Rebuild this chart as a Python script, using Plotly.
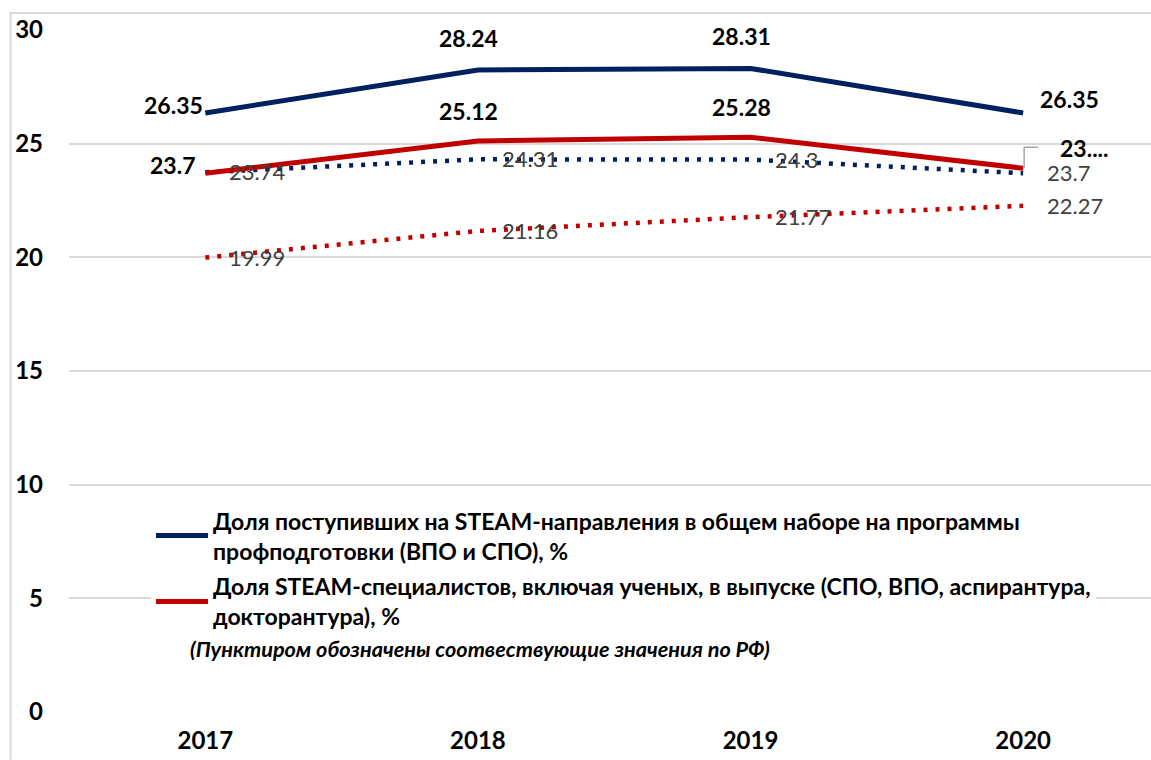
import plotly.graph_objects as go

years = ["2017", "2018", "2019", "2020"]
enrolled_region = [26.35, 28.24, 28.31, 26.35]
graduates_region = [23.7, 25.12, 25.28, 23.92]
enrolled_rf = [23.74, 24.31, 24.3, 23.7]
graduates_rf = [19.99, 21.16, 21.77, 22.27]
graduates_region_labels = ["23.7", "25.12", "25.28", "23...."]
series_names = [
    "Доля поступивших на STEAM-направления в общем наборе на программы<br>профподготовки (ВПО и СПО), %",
    "Доля STEAM-специалистов, включая ученых, в выпуске (СПО, ВПО, аспирантура,<br>докторантура), %",
]
note_text = "(Пунктиром обозначены соотвествующие значения по РФ)"
y_ticks = [0, 5, 10, 15, 20, 25, 30]

NAVY = "#002060"
RED = "#C00000"
GRID = "#D9D9D9"
FONT = "Lato"

fig = go.Figure()
fig.add_trace(go.Scatter(x=years, y=enrolled_rf, mode="lines", showlegend=False,
                         line=dict(color=NAVY, width=4.5, dash="4px,8px")))
fig.add_trace(go.Scatter(x=years, y=graduates_rf, mode="lines", showlegend=False,
                         line=dict(color=RED, width=4.5, dash="4px,8px")))
fig.add_trace(go.Scatter(x=years, y=enrolled_region, mode="lines", name=series_names[0],
                         legendgroup="a", line=dict(color=NAVY, width=5)))
fig.add_trace(go.Scatter(x=years, y=graduates_region, mode="lines", name=series_names[1],
                         legendgroup="b", line=dict(color=RED, width=5)))

bold_lbl = dict(family=FONT, size=23, color="black", weight="bold")
gray_lbl = dict(family=FONT, size=22, color="#404040")

# solid-line labels (x given as category index)
for i, v in enumerate(enrolled_region):
    if i == 0:
        fig.add_annotation(x=i, y=v, text=f"{v:g}", showarrow=False, xanchor="right",
                           xshift=0, yshift=8, font=bold_lbl)
    elif i == 3:
        fig.add_annotation(x=i, y=v, text=f"{v:g}", showarrow=False, xanchor="left",
                           xshift=15, yshift=14, font=bold_lbl)
    else:
        fig.add_annotation(x=i, y=v, text=f"{v:g}", showarrow=False, yanchor="bottom",
                           xshift=-9, yshift=16, font=bold_lbl)
for i, (v, t) in enumerate(zip(graduates_region, graduates_region_labels)):
    if i == 0:
        fig.add_annotation(x=i, y=v, text=t, showarrow=False, xanchor="right",
                           xshift=-8, yshift=8, font=bold_lbl)
    elif i == 3:
        fig.add_annotation(x=i, y=v, text=t, showarrow=False, xanchor="left",
                           xshift=35, yshift=20, font=bold_lbl)
    else:
        fig.add_annotation(x=i, y=v, text=t, showarrow=False, yanchor="bottom",
                           xshift=-9, yshift=14, font=bold_lbl)

# leader line for the truncated label
fig.add_shape(type="line", xref="x", yref="y", xsizemode="pixel", ysizemode="pixel",
              xanchor=3, yanchor=graduates_region[3], x0=1, x1=1, y0=0, y1=21,
              line=dict(color="#A6A6A6", width=1.5))
fig.add_shape(type="line", xref="x", yref="y", xsizemode="pixel", ysizemode="pixel",
              xanchor=3, yanchor=graduates_region[3], x0=1, x1=15, y0=21, y1=21,
              line=dict(color="#A6A6A6", width=1.5))

# dotted-line labels (to the right)
for series in (enrolled_rf, graduates_rf):
    for i, v in enumerate(series):
        fig.add_annotation(x=i, y=v, text=f"{v:g}", showarrow=False, xanchor="left",
                           xshift=22, yshift=0.5, font=gray_lbl)

fig.add_annotation(xref="paper", yref="paper", x=0.38, y=0.071, text=f"<i>{note_text}</i>",
                   showarrow=False, font=dict(family=FONT, size=21.7, color="black", weight="bold"))

# outer chart border (top and left edges visible in the frame)
fig.add_shape(type="line", xref="paper", yref="paper", x0=-0.054, x1=-0.054, y0=0.0, y1=1.0249,
              line=dict(color=GRID, width=2), layer="above")
fig.add_shape(type="line", xref="paper", yref="paper", x0=-0.054, x1=-0.054, y0=-0.07, y1=0.0,
              line=dict(color=GRID, width=2), layer="above")
fig.add_shape(type="line", xref="x domain", yref="y domain", x0=-0.055, x1=1.0, y0=1.0249, y1=1.0249,
              line=dict(color=GRID, width=2), layer="above")

fig.update_layout(
    width=1151, height=760,
    margin=dict(l=69, r=0, t=30, b=48),
    plot_bgcolor="white", paper_bgcolor="white",
    legend=dict(x=0.0758, y=0.312, xanchor="left", yanchor="top", bgcolor="white",
                font=dict(family=FONT, size=23, color="black", weight="bold"),
                traceorder="grouped", tracegroupgap=3, itemwidth=52),
    xaxis=dict(range=[-0.5, 3.469], showgrid=False, showline=False, zeroline=False,
               tickfont=dict(family=FONT, size=24, color="black", weight="bold"),
               ticklabelstandoff=12),
    yaxis=dict(range=[0, 30], tickvals=y_ticks, showgrid=True, gridcolor=GRID, gridwidth=1.5,
               zeroline=False, showline=False,
               tickfont=dict(family=FONT, size=24, color="black", weight="bold"),
               ticklabelstandoff=25),
)

fig.write_html("out.html", config={"displayModeBar": False},
               post_script="document.body.style.margin='0';document.body.style.overflow='hidden';")
